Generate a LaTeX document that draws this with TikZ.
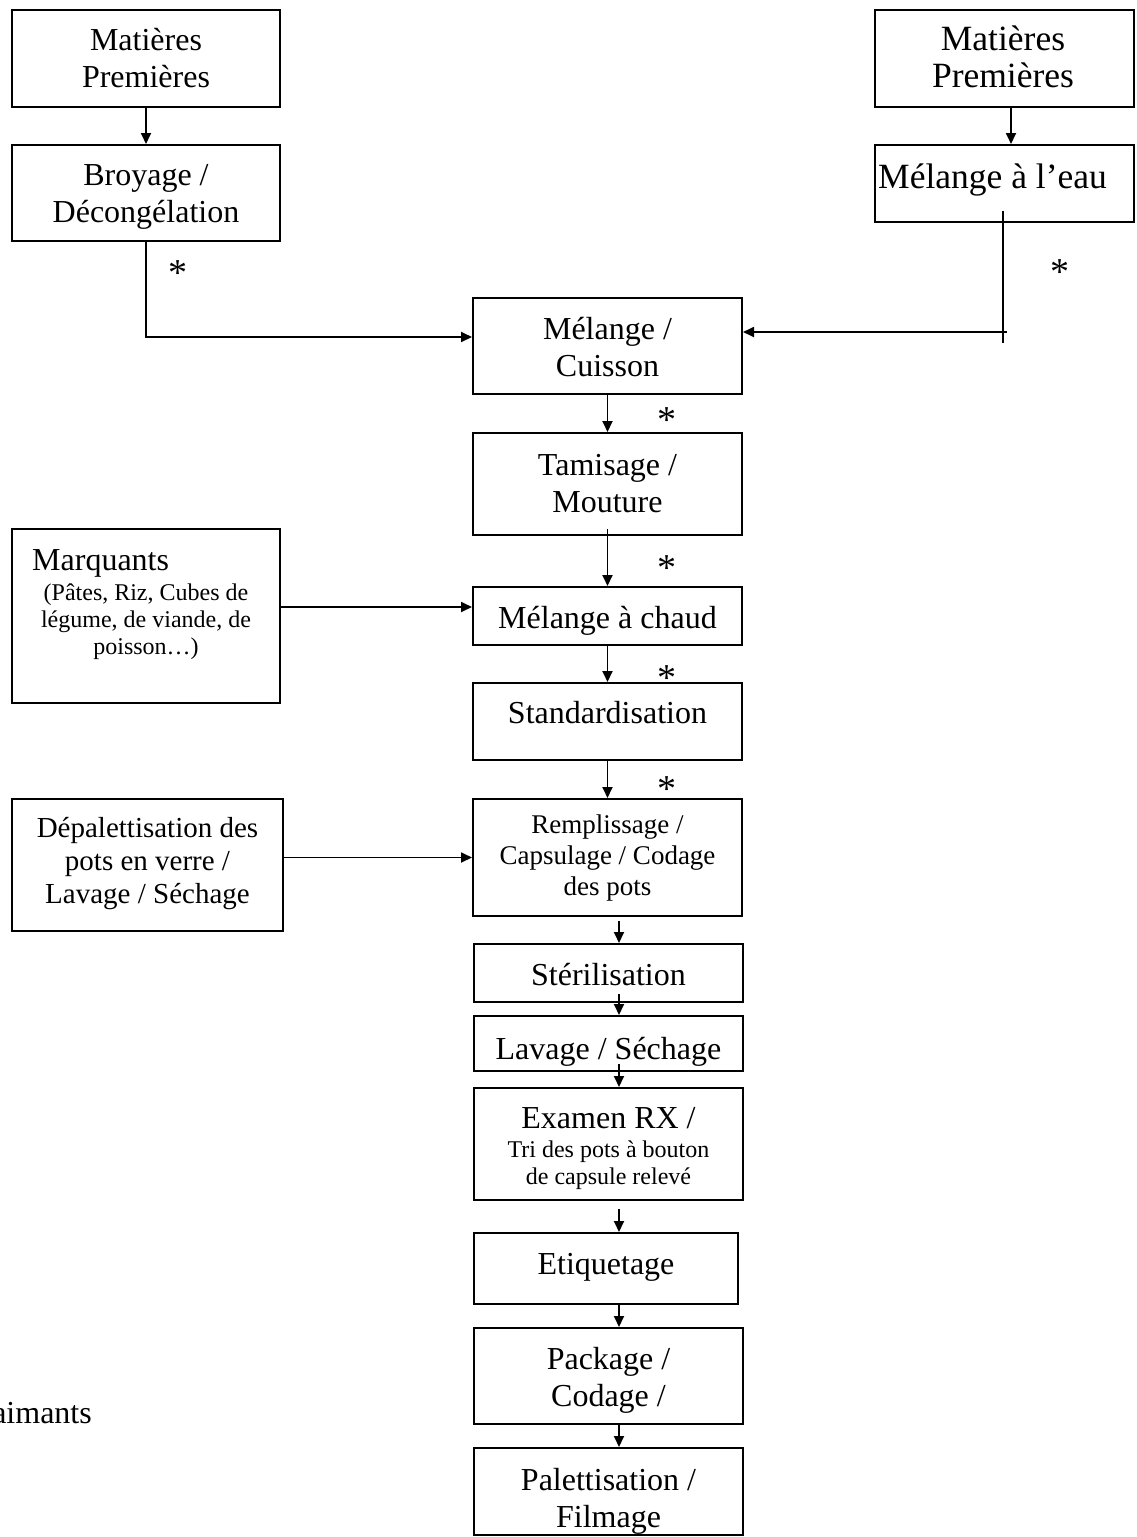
\documentclass[tikz,border=0pt]{standalone}
\usepackage{fontspec}
\setmainfont{Liberation Serif}
\usetikzlibrary{arrows.meta,calc}
\begin{document}
\begin{tikzpicture}[x=1pt,y=-1pt,
  box/.style={draw, line width=2pt, inner sep=0pt},
  lbl/.style={inner sep=0pt, anchor=base, align=center},
  big/.style={font=\fontsize{32}{37}\selectfont},
  huge/.style={font=\fontsize{35.5}{37}\selectfont},
  mid/.style={font=\fontsize{29}{33}\selectfont},
  fill27/.style={font=\fontsize{27}{31}\selectfont},
  small/.style={font=\fontsize{24}{27}\selectfont},
  wire/.style={line width=1.8pt},
  arr/.style={line width=1.8pt, -{Triangle[length=11pt,width=10pt]}},
  starmark/.style={font=\fontsize{38}{40}\selectfont, inner sep=0pt, anchor=base}
]
\useasboundingbox (0,0) rectangle (1136,1537);

% ---------- boxes ----------
\node[box, minimum width=268pt, minimum height=97pt]  (mp1)   at (146,58.5)    {};
\node[box, minimum width=268pt, minimum height=96pt]  (broy)  at (146,193)     {};
\node[box, minimum width=259pt, minimum height=97pt]  (mp2)   at (1004.5,58.5) {};
\node[box, minimum width=259pt, minimum height=77pt]  (eau)   at (1004.5,183.5){};
\node[box, minimum width=269pt, minimum height=96pt]  (cuis)  at (607.5,346)   {};
\node[box, minimum width=269pt, minimum height=102pt] (tam)   at (607.5,484)   {};
\node[box, minimum width=269pt, minimum height=58pt]  (chaud) at (607.5,616)   {};
\node[box, minimum width=269pt, minimum height=77pt]  (std)   at (607.5,721.5) {};
\node[box, minimum width=269pt, minimum height=117pt] (rempl) at (607.5,857.5) {};
\node[box, minimum width=268pt, minimum height=174pt] (marq)  at (146,616)     {};
\node[box, minimum width=271pt, minimum height=132pt] (depal) at (147.5,865)   {};
\node[box, minimum width=269pt, minimum height=58pt]  (ster)  at (608.5,973)   {};
\node[box, minimum width=269pt, minimum height=55pt]  (lav)   at (608.5,1043.5){};
\node[box, minimum width=269pt, minimum height=112pt] (exam)  at (608.5,1144)  {};
\node[box, minimum width=264pt, minimum height=71pt]  (etiq)  at (606,1268.5)  {};
\node[box, minimum width=269pt, minimum height=96pt]  (pack)  at (608.5,1376)  {};
\node[box, minimum width=269pt, minimum height=87pt]  (palet) at (608.5,1491.5){};

% ---------- texts (multi-line labels sit on their last baseline) ----------
\node[lbl, big]  (mp1t)   at (146,87)    {Matières\\Premières};
\node[lbl, big]  (broyt)  at (146,222)   {Broyage /\\Décongélation};
\node[lbl, huge] (mp2t)   at (1003,87)   {Matières\\Premières};
\node[lbl, huge, anchor=base west] (eaut) at (878,188) {Mélange à l’eau};
\node[lbl, big]  (cuist)  at (607.5,376) {Mélange /\\Cuisson};
\node[lbl, big]  (tamt)   at (607.5,512) {Tamisage /\\Mouture};
\node[lbl, big]  (chaudt) at (607.5,628) {Mélange à chaud};
\node[lbl, big]  (stdt)   at (607.5,723) {Standardisation};
\node[lbl, fill27] (remplt) at (607.5,895) {Remplissage /\\Capsulage / Codage\\des pots};
\node[lbl, big, anchor=base west] (marqt) at (32,570) {Marquants};
\node[lbl, small] (marqs) at (146,654) {(Pâtes, Riz, Cubes de\\légume, de viande, de\\poisson…)};
\node[lbl, mid]  (depalt) at (147.5,903) {Dépalettisation des\\pots en verre /\\Lavage / Séchage};
\node[lbl, big]  (stert)  at (608.5,985) {Stérilisation};
\begin{scope}
  \clip (lav.south west) rectangle (lav.north east);
  \node[lbl, big] (lavt) at (608.5,1059) {Lavage / Séchage};
\end{scope}
\node[lbl, big]   (examt)  at (608.5,1128) {Examen RX /};
\node[lbl, small] (exams)  at (608.5,1184) {Tri des pots à bouton\\de capsule relevé};
\node[lbl, big]  (etiqt)  at (606,1274)  {Etiquetage};
\node[lbl, big]  (packt)  at (608.5,1406) {Package /\\Codage /};
\node[lbl, big]  (palett) at (608.5,1527) {Palettisation /\\Filmage};
\node[lbl, big, anchor=base east] (aim) at (92,1423) {aimants};

% ---------- stars ----------
\node[starmark] (s1) at (178,285)  {*};
\node[starmark] (s2) at (1060,284) {*};
\node[starmark] (s3) at (667,432)  {*};
\node[starmark] (s4) at (667,580)  {*};
\node[starmark] (s5) at (667,690)  {*};
\node[starmark] (s6) at (667,801)  {*};

% ---------- helper coordinates ----------
\coordinate (ylb)   at (0,337);
\coordinate (eauin) at (1003,211);
\coordinate (eaudn) at (1003,343);
\coordinate (eauhz) at (1007,332);
\coordinate (ymq)   at (0,607);
\coordinate (xlow)  at (619,0);
\coordinate (xmp2)  at (1011,0);

% ---------- connectors ----------
\draw[arr] (mp1.south -| broy.north) -- (broy.north);
\draw[arr] (mp2.south -| xmp2) -- (eau.north -| xmp2);
\draw[arr] (broy.south) |- (cuis.west |- ylb);
\draw[wire] (eauin) -- (eaudn);
\draw[arr] (eauhz) -- (cuis.east |- eauhz);
\draw[arr] (cuis.south) -- (tam.north);
\draw[arr] ($(tam.south)+(0,-7)$) -- (chaud.north);
\draw[arr] (marq.east |- ymq) -- (chaud.west |- ymq);
\draw[arr] (chaud.south) -- (std.north);
\draw[arr] (std.south) -- (rempl.north);
\draw[arr] (depal.east |- rempl.west) -- (rempl.west);
\draw[arr] ($(rempl.south -| xlow)+(0,4)$) -- (ster.north -| xlow);
\draw[arr] ($(ster.south -| xlow)+(0,-9)$) -- (lav.north -| xlow);
\draw[arr] ($(lav.south -| xlow)+(0,-8)$) -- (exam.north -| xlow);
\draw[arr] ($(exam.south -| xlow)+(0,8)$) -- (etiq.north -| xlow);
\draw[arr] (etiq.south -| xlow) -- (pack.north -| xlow);
\draw[arr] (pack.south -| xlow) -- (palet.north -| xlow);
\end{tikzpicture}
\end{document}
